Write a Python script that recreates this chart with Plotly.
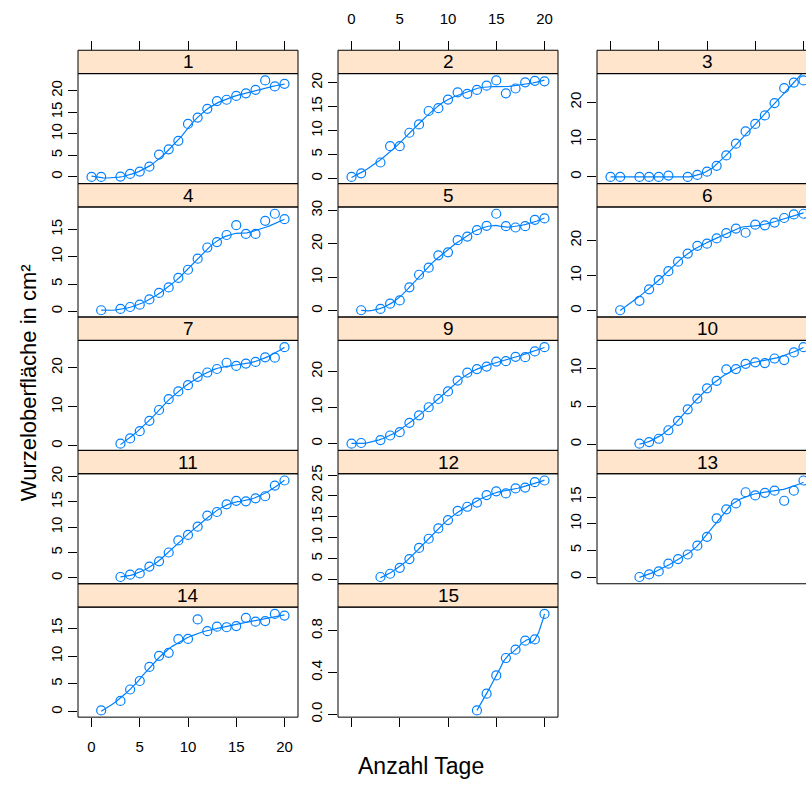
import numpy as np
import plotly.graph_objects as go

# ---------------- data ----------------
panel_labels = ["1", "2", "3", "4", "5", "6", "7", "9", "10", "11", "12", "13", "14", "15"]

days_1 = [0, 1, 3, 4, 5, 6, 7, 8, 9, 10, 11, 12, 13, 14, 15, 16, 17, 18, 19, 20]
area_1 = [0, 0, 0.08, 0.68, 1.22, 2.36, 5.17, 6.39, 8.37, 12.3, 13.77, 15.8, 17.6, 17.9, 18.8, 19.4, 20.2, 22.4, 21.0, 21.6]

days_2 = [0, 1, 3, 4, 5, 6, 7, 8, 9, 10, 11, 12, 13, 14, 15, 16, 17, 18, 19, 20]
area_2 = [0.34, 1.09, 3.34, 6.76, 6.76, 9.56, 11.3, 14.1, 14.7, 16.5, 18.0, 17.7, 18.5, 19.4, 20.5, 17.8, 18.8, 20.1, 20.4, 20.3]

days_3 = [0, 1, 3, 4, 5, 6, 8, 9, 10, 11, 12, 13, 14, 15, 16, 17, 18, 19, 20]
area_3 = [0, 0, 0, 0, 0, 0.35, 0, 0.52, 1.4, 2.97, 5.76, 8.9, 12.2, 14.2, 16.5, 19.8, 23.8, 25.3, 25.9]

days_4 = [1, 3, 4, 5, 6, 7, 8, 9, 10, 11, 12, 13, 14, 15, 16, 17, 18, 19, 20]
area_4 = [0.18, 0.42, 0.78, 1.2, 2.16, 3.36, 4.38, 6.12, 7.62, 9.66, 11.7, 12.7, 14.0, 15.8, 14.2, 14.2, 16.6, 17.9, 16.9]

days_5 = [1, 3, 4, 5, 6, 7, 8, 9, 10, 11, 12, 13, 14, 15, 16, 17, 18, 19, 20]
area_5 = [0.2, 0.59, 2.15, 3.13, 7.04, 10.8, 12.9, 16.6, 17.5, 21.1, 22.2, 24.1, 25.4, 29.0, 25.3, 24.9, 25.3, 27.2, 27.6]

days_6 = [1, 3, 4, 5, 6, 7, 8, 9, 10, 11, 12, 13, 14, 15, 16, 17, 18, 19, 20]
area_6 = [0.19, 2.88, 6.14, 8.74, 11.3, 14.0, 16.3, 18.5, 19.1, 20.6, 22.1, 23.4, 22.2, 24.5, 24.3, 25.1, 26.4, 27.4, 27.6]

days_7 = [3, 4, 5, 6, 7, 8, 9, 10, 11, 12, 13, 14, 15, 16, 17, 18, 19, 20]
area_7 = [0.59, 1.92, 3.77, 6.44, 9.2, 11.97, 13.97, 15.56, 17.7, 18.8, 19.7, 21.3, 20.5, 21.1, 21.5, 22.7, 22.6, 25.3]

days_9 = [0, 1, 3, 4, 5, 6, 7, 8, 9, 10, 11, 12, 13, 14, 15, 16, 17, 18, 19, 20]
area_9 = [0, 0.18, 1.0, 2.26, 3.17, 5.79, 7.87, 10.1, 12.4, 14.5, 17.5, 19.7, 20.7, 21.4, 22.8, 22.9, 24.1, 24.0, 25.6, 26.8]

days_10 = [3, 4, 5, 6, 7, 8, 9, 10, 11, 12, 13, 14, 15, 16, 17, 18, 19, 20]
area_10 = [0.09, 0.3, 0.73, 1.85, 3.1, 4.61, 6.03, 7.37, 8.36, 9.87, 9.91, 10.6, 10.8, 10.7, 11.3, 11.1, 12.1, 12.8]

days_11 = [3, 4, 5, 6, 7, 8, 9, 10, 11, 12, 13, 14, 15, 16, 17, 18, 19, 20]
area_11 = [0.19, 0.64, 0.9, 2.25, 3.28, 5.02, 7.4, 8.49, 10.1, 12.3, 13.0, 14.5, 15.2, 15.1, 15.7, 16.1, 18.2, 19.2]

days_12 = [3, 4, 5, 6, 7, 8, 9, 10, 11, 12, 13, 14, 15, 16, 17, 18, 19, 20]
area_12 = [0.55, 1.33, 2.75, 4.86, 7.53, 9.73, 12.2, 14.2, 16.4, 17.4, 18.4, 20.2, 21.1, 20.6, 21.8, 22.0, 23.3, 23.7]

days_13 = [3, 4, 5, 6, 7, 8, 9, 10, 11, 12, 13, 14, 15, 16, 17, 18, 19, 20]
area_13 = [0, 0.49, 1.04, 2.51, 3.37, 4.22, 5.88, 7.53, 11.0, 12.7, 13.8, 15.9, 15.3, 15.8, 16.2, 14.3, 16.2, 18.1]

days_14 = [1, 3, 4, 5, 6, 7, 8, 9, 10, 11, 12, 13, 14, 15, 16, 17, 18, 19, 20]
area_14 = [0.24, 1.94, 4.0, 5.53, 8.06, 10.06, 10.6, 13.06, 13.1, 16.6, 14.5, 15.3, 15.2, 15.4, 16.9, 16.2, 16.3, 17.6, 17.3]

days_15 = [13, 14, 15, 16, 17, 18, 19, 20]
area_15 = [0.038, 0.198, 0.373, 0.54, 0.62, 0.706, 0.718, 0.963]

all_days = [days_1, days_2, days_3, days_4, days_5, days_6, days_7, days_9,
            days_10, days_11, days_12, days_13, days_14, days_15]
all_area = [area_1, area_2, area_3, area_4, area_5, area_6, area_7, area_9,
            area_10, area_11, area_12, area_13, area_14, area_15]

y_dticks = [5, 5, 10, 5, 10, 10, 10, 10, 5, 5, 5, 5, 5, 0.4]
x_tickvals = [0, 5, 10, 15, 20]

x_title = "Anzahl Tage"
y_title = "Wurzeloberfläche in cm²"


# ---------------- robust local-regression smoother (loess) ----------------
def loess_smooth(x, y, span=0.5, degree=2, iterations=4, n_eval=50):
    x = np.asarray(x, float)
    y = np.asarray(y, float)
    n = len(x)
    q = max(int(np.floor(n * span)), degree + 1)

    def fit_at(x0, rw):
        d = np.abs(x - x0)
        h = np.sort(d)[q - 1]
        h = max(h, 1e-9) * 1.0000001
        u = d / h
        w = np.where(u < 1, (1 - u ** 3) ** 3, 0.0) * rw
        X = np.vander(x - x0, degree + 1, increasing=True)
        sw = np.sqrt(w)
        coef, *_ = np.linalg.lstsq(X * sw[:, None], y * sw, rcond=None)
        return coef[0]

    rw = np.ones(n)
    for it in range(iterations - 1):
        fitted = np.array([fit_at(xi, rw) for xi in x])
        r = y - fitted
        cmad = 6 * np.median(np.abs(r))
        if cmad < 1e-7 * np.mean(np.abs(y)) + 1e-12:
            break
        u = np.abs(r) / cmad
        rw = np.where(u < 1, (1 - u ** 2) ** 2, 0.0)
    xe = np.linspace(x.min(), x.max(), n_eval)
    ye = np.array([fit_at(v, rw) for v in xe])
    return xe, ye


# ---------------- layout geometry ----------------
W, H = 806, 785
col_px = [(78, 298), (338, 558), (597, 817)]
row_top0, row_h, strip_h = 42.0, 135.8, 23.8
blue = "#0080ff"
strip_fill = "#ffe5cc"
font_family = "Liberation Sans, Arial, sans-serif"

xmin_all = min(min(d) for d in all_days)
xmax_all = max(max(d) for d in all_days)
xr = xmax_all - xmin_all
x_lo, x_hi = xmin_all - 0.07 * xr, xmax_all + 0.07 * xr


def px_x(v):
    return v / W


def px_y(v):
    return 1 - v / H


fig = go.Figure()
shapes = []
annotations = []
n_panels = len(panel_labels)
n_rows = (n_panels + 2) // 3

for k in range(n_panels):
    r, c = divmod(k, 3)
    idx = k + 1
    xa = "x" if idx == 1 else f"x{idx}"
    ya = "y" if idx == 1 else f"y{idx}"
    xkey = "xaxis" if idx == 1 else f"xaxis{idx}"
    ykey = "yaxis" if idx == 1 else f"yaxis{idx}"

    left, right = col_px[c]
    rt = row_top0 + r * row_h
    sb = rt + strip_h
    pb = rt + row_h
    vis_right = min(right, W)

    xd, yd = all_days[k], all_area[k]
    ymin, ymax = min(yd), max(yd)
    yr = ymax - ymin
    y_rng = [ymin - 0.07 * yr, ymax + 0.07 * yr]
    x_rng_hi = x_lo + (x_hi - x_lo) * (vis_right - left) / (right - left)

    sx, sy = loess_smooth(xd, yd)
    fig.add_trace(go.Scatter(x=sx, y=sy, mode="lines", xaxis=xa, yaxis=ya,
                             line=dict(color=blue, width=1.2), hoverinfo="skip",
                             showlegend=False))
    fig.add_trace(go.Scatter(x=xd, y=yd, mode="markers", xaxis=xa, yaxis=ya,
                             marker=dict(symbol="circle-open", size=9, color=blue,
                                         line=dict(width=1.2, color=blue)),
                             hoverinfo="skip", showlegend=False))

    is_bottom = (r == n_rows - 1)
    xaxis = dict(domain=[px_x(left), px_x(vis_right)], range=[x_lo, x_rng_hi],
                 showgrid=False, zeroline=False, showline=False,
                 tickvals=x_tickvals, tickfont=dict(size=15, color="black", family=font_family),
                 ticklen=9, tickcolor="black", tickwidth=1)
    if r == 0:
        xaxis.update(anchor="free", position=px_y(rt), side="top", ticks="outside",
                     showticklabels=(c == 1), ticklabelstandoff=11)
    elif is_bottom:
        xaxis.update(anchor=ya, side="bottom", ticks="outside", showticklabels=(c == 0),
                     ticklabelstandoff=7)
    else:
        xaxis.update(anchor=ya, ticks="", showticklabels=False)

    yaxis = dict(domain=[px_y(pb), px_y(sb)], range=y_rng, anchor=xa, side="left",
                 showgrid=False, zeroline=False, showline=False,
                 ticks="outside", ticklen=9, tickcolor="black", tickwidth=1,
                 tick0=0, dtick=y_dticks[k], tickangle=-90,
                 tickfont=dict(size=15, color="black", family=font_family))
    if y_dticks[k] < 1:
        yaxis["tickformat"] = ".1f"
    fig.layout[xkey] = xaxis
    fig.layout[ykey] = yaxis

    shapes.append(dict(type="rect", xref="paper", yref="paper",
                       x0=px_x(left), x1=px_x(right), y0=px_y(sb), y1=px_y(rt),
                       fillcolor=strip_fill, line=dict(color="black", width=1), layer="below"))
    shapes.append(dict(type="rect", xref="paper", yref="paper",
                       x0=px_x(left), x1=px_x(right), y0=px_y(pb), y1=px_y(sb),
                       fillcolor="rgba(0,0,0,0)", line=dict(color="black", width=1), layer="above"))
    annotations.append(dict(text=panel_labels[k], xref="paper", yref="paper",
                            x=px_x((left + right) / 2), y=px_y((rt + sb) / 2),
                            showarrow=False, xanchor="center", yanchor="middle",
                            font=dict(size=19, color="black", family=font_family)))

annotations.append(dict(text=x_title, xref="paper", yref="paper", x=px_x(421), y=px_y(771),
                        showarrow=False, xanchor="center", yanchor="middle",
                        font=dict(size=23, color="black", family=font_family)))
annotations.append(dict(text=y_title, xref="paper", yref="paper", x=px_x(28), y=px_y(381),
                        showarrow=False, xanchor="center", yanchor="middle", textangle=-90,
                        font=dict(size=22, color="black", family=font_family)))

fig.update_layout(width=W, height=H, margin=dict(l=0, r=0, t=0, b=0), autosize=False,
                  paper_bgcolor="white", plot_bgcolor="white",
                  shapes=shapes, annotations=annotations,
                  font=dict(family=font_family, color="black"), showlegend=False)

fig.write_html("out.html", config={"responsive": False, "displayModeBar": False},
               post_script="document.body.style.margin='0';document.body.style.padding='0';document.body.style.overflow='hidden';")
